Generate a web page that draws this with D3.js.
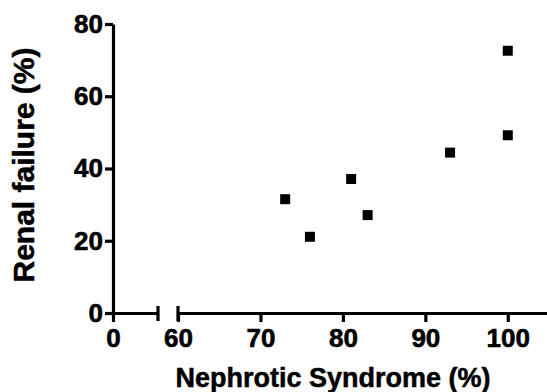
<!DOCTYPE html>
<html>
<head>
<meta charset="utf-8">
<script src="https://cdn.jsdelivr.net/npm/d3@7"></script>
<style>
  body { margin: 0; background: #fff; }
  text { font-family: "Liberation Sans", Arial, sans-serif; font-weight: bold; }
</style>
</head>
<body>
<div id="chart"></div>
<script>
// data
const nephrotic = [100, 100, 93, 81, 73, 83, 76];
const renalFailure = [72.6, 49.2, 44.4, 37.1, 31.5, 27.1, 21.1];
const xTicksLow = [0];
const xTicksHigh = [60, 70, 80, 90, 100];
const yTicks = [0, 20, 40, 60, 80];

const width = 547, height = 392;
const svg = d3.select("#chart").append("svg")
  .attr("width", width)
  .attr("height", height);

// broken x axis: two segments
const xLow = d3.scaleLinear().domain([0, 6]).range([113, 158]);
const xHigh = d3.scaleLinear().domain([60, 105]).range([178, 549]);
const y = d3.scaleLinear().domain([0, 80]).range([313, 24]);

const axisColor = "#000";
const fmt = d3.format("d");

function styleLabels(g) {
  g.selectAll(".tick text")
    .style("font-size", "26px")
    .attr("fill", "#000")
    .attr("stroke", "#000")
    .attr("stroke-width", 0.6);
}

// y axis
const yAxis = svg.append("g")
  .attr("transform", `translate(${xLow(0)},0)`)
  .call(d3.axisLeft(y).tickValues(yTicks).tickFormat(fmt).tickSize(8).tickPadding(2).tickSizeOuter(0));
yAxis.select(".domain").attr("stroke-width", 3.2);
yAxis.selectAll(".tick line").attr("stroke-width", 3.2);
styleLabels(yAxis);

// x axis, low segment
const xAxisLow = svg.append("g")
  .attr("transform", `translate(0,${y(0)})`)
  .call(d3.axisBottom(xLow).tickValues(xTicksLow).tickFormat(fmt).tickSize(9).tickPadding(7).tickSizeOuter(0));
// x axis, high segment
const xAxisHigh = svg.append("g")
  .attr("transform", `translate(0,${y(0)})`)
  .call(d3.axisBottom(xHigh).tickValues(xTicksHigh).tickFormat(fmt).tickSize(9).tickPadding(7).tickSizeOuter(0));

[xAxisLow, xAxisHigh].forEach(g => {
  g.select(".domain").attr("stroke-width", 3.2);
  g.selectAll(".tick line").attr("stroke-width", 3.2);
  styleLabels(g);
});

// break marks
svg.append("g").selectAll("line")
  .data([xLow(6), xHigh(60)])
  .join("line")
  .attr("x1", d => d).attr("x2", d => d)
  .attr("y1", y(0) - 7).attr("y2", y(0) + 8)
  .attr("stroke", axisColor)
  .attr("stroke-width", 3.2);

// points
const pts = nephrotic.map((v, i) => ({ x: v, y: renalFailure[i] }));
const size = 10;
svg.append("g").selectAll("rect")
  .data(pts)
  .join("rect")
  .attr("x", d => xHigh(d.x) - size / 2)
  .attr("y", d => y(d.y) - size / 2)
  .attr("width", size)
  .attr("height", size)
  .attr("fill", "#000");

// axis titles
svg.append("text")
  .attr("x", 333)
  .attr("y", 387)
  .attr("text-anchor", "middle")
  .attr("stroke", "#000")
  .attr("stroke-width", 0.5)
  .style("font-size", "27px")
  .text("Nephrotic Syndrome (%)");

svg.append("text")
  .attr("transform", `translate(34,165) rotate(-90)`)
  .attr("text-anchor", "middle")
  .attr("stroke", "#000")
  .attr("stroke-width", 0.5)
  .style("font-size", "30px")
  .text("Renal failure (%)");
</script>
</body>
</html>
